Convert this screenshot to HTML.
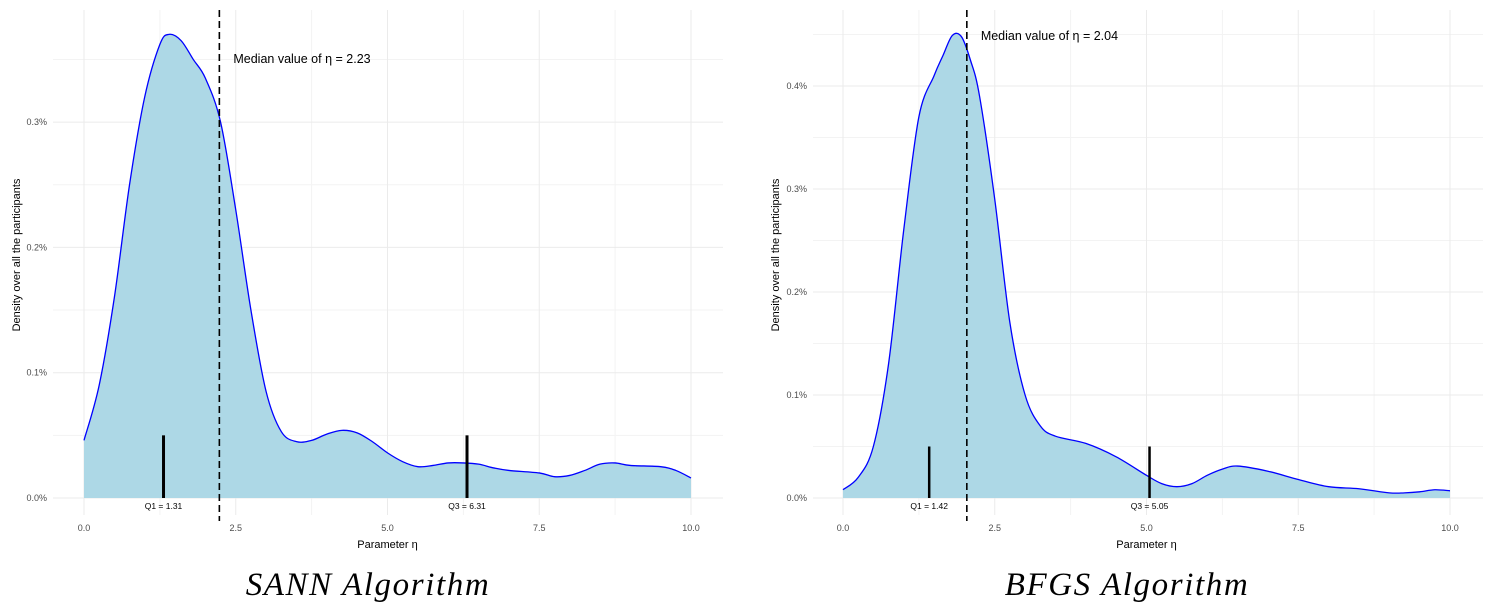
<!DOCTYPE html>
<html><head><meta charset="utf-8"><style>
body{margin:0;background:#fff;width:1485px;height:603px;overflow:hidden}
svg text{font-family:"Liberation Sans",sans-serif}
</style></head><body>
<svg id="s" width="1485" height="603"></svg>
<script>
const xTicks=[0,2.5,5,7.5,10];
const xTickLabels=["0.0","2.5","5.0","7.5","10.0"];
const leftYTicks=[0,0.1,0.2,0.3];
const leftYLabels=["0.0%","0.1%","0.2%","0.3%"];
const rightYTicks=[0,0.1,0.2,0.3,0.4];
const rightYLabels=["0.0%","0.1%","0.2%","0.3%","0.4%"];
const leftX=[0,0.25,0.5,0.75,1,1.25,1.4,1.6,1.8,2,2.25,2.5,2.75,3,3.25,3.5,3.75,4,4.25,4.5,4.75,5,5.25,5.5,5.75,6,6.25,6.5,6.75,7,7.5,7.75,8,8.25,8.5,8.75,9,9.5,9.75,10];
const leftDensity=[0.046,0.09,0.16,0.25,0.32,0.362,0.37,0.365,0.35,0.335,0.30,0.23,0.15,0.085,0.053,0.045,0.046,0.051,0.054,0.052,0.045,0.036,0.029,0.025,0.026,0.028,0.028,0.027,0.024,0.022,0.02,0.017,0.018,0.022,0.027,0.028,0.026,0.025,0.022,0.016];
const rightX=[0,0.25,0.5,0.75,1,1.25,1.5,1.65,1.8,1.95,2.1,2.25,2.5,2.75,3,3.25,3.5,4,4.5,5,5.25,5.5,5.75,6,6.25,6.5,7,7.5,8,8.5,9,9.25,9.5,9.75,10];
const rightDensity=[0.008,0.02,0.05,0.13,0.26,0.37,0.41,0.43,0.449,0.448,0.425,0.39,0.29,0.17,0.1,0.07,0.06,0.053,0.04,0.022,0.014,0.011,0.014,0.022,0.028,0.031,0.026,0.018,0.011,0.009,0.005,0.005,0.006,0.008,0.007];
const leftStats={median:2.23,q1:1.31,q3:6.31};
const rightStats={median:2.04,q1:1.42,q3:5.05};
const NS="http://www.w3.org/2000/svg";
const svg=document.getElementById('s');
function el(t,a,p){const e=document.createElementNS(NS,t);for(const k in a)e.setAttribute(k,a[k]);(p||svg).appendChild(e);return e;}
function spline(pts){let d="M"+pts[0][0]+","+pts[0][1];for(let i=0;i<pts.length-1;i++){const p0=pts[Math.max(0,i-1)],p1=pts[i],p2=pts[i+1],p3=pts[Math.min(pts.length-1,i+2)];const c1=[p1[0]+(p2[0]-p0[0])/6,p1[1]+(p2[1]-p0[1])/6],c2=[p2[0]-(p3[0]-p1[0])/6,p2[1]-(p3[1]-p1[1])/6];d+=`C${c1[0]},${c1[1]} ${c2[0]},${c2[1]} ${p2[0]},${p2[1]}`;}return d;}
function panel(o){
 const g=el('g',{});  
 const sx=v=>o.x0+(o.x1-o.x0)*v/10, sy=v=>o.y0-o.ppu*v;
 for(let i=0;i<xTicks.length-1;i++){const m=(xTicks[i]+xTicks[i+1])/2;el('line',{x1:sx(m),x2:sx(m),y1:10,y2:515,stroke:'#f3f3f3','stroke-width':1},g);}
 for(let i=0;i<o.yt.length;i++){const m=o.yt[i]+0.05;if(sy(m)>10)el('line',{x1:o.gl,x2:o.gr,y1:sy(m),y2:sy(m),stroke:'#f3f3f3','stroke-width':1},g);}
 xTicks.forEach((t,i)=>{const l=el('line',{x1:sx(t),x2:sx(t),y1:10,y2:515,stroke:'#ebebeb','stroke-width':1},g);
  const tx=el('text',{x:sx(t),y:531,'font-size':9,fill:'#4d4d4d','text-anchor':'middle'},g);tx.textContent=xTickLabels[i];});
 o.yt.forEach((t,i)=>{const l=el('line',{x1:o.gl,x2:o.gr,y1:sy(t),y2:sy(t),stroke:'#ebebeb','stroke-width':1},g);
  const tx=el('text',{x:o.gl-6,y:sy(t)+3,'font-size':9,fill:'#4d4d4d','text-anchor':'end'},g);tx.textContent=o.yl[i];});
 const pts=o.xs.map((x,i)=>[sx(x),sy(o.ys[i])]);
 const c=spline(pts);
 const a=el('path',{d:c+`L${sx(10)},${sy(0)}L${sx(0)},${sy(0)}Z`,fill:'#add8e6'},g);
 const ln=el('path',{d:c,fill:'none',stroke:'#0000ff','stroke-width':1.3},g);
 [['q1','Q1'],['q3','Q3']].forEach(([k,lab])=>{const v=o.st[k];const b=el('line',{x1:sx(v),x2:sx(v),y1:sy(0),y2:sy(0.05),stroke:'#000','stroke-width':o.qw},g);
  const t=el('text',{x:sx(v),y:509,'font-size':8.5,fill:'#000','text-anchor':'middle'},g);t.textContent=lab+' = '+v.toFixed(2);});
 const md=el('line',{x1:sx(o.st.median),x2:sx(o.st.median),y1:10,y2:521,stroke:'#000','stroke-width':1.6,'stroke-dasharray':'7,4'},g);
 const mt=el('text',{x:sx(o.st.median)+14,y:o.mty,'font-size':12.5,fill:'#000'},g);mt.textContent='Median value of η = '+o.st.median.toFixed(2);
 const xt=el('text',{x:sx(5),y:548,'font-size':11,fill:'#000','text-anchor':'middle'},g);xt.textContent='Parameter η';
 const yt=el('text',{x:0,y:0,'font-size':11,fill:'#000','text-anchor':'middle',transform:`translate(${o.ytx},255) rotate(-90)`},g);yt.textContent='Density over all the participants';
 const ti=el('text',{x:o.tx,y:595,'font-size':33,'font-style':'italic',fill:'#000','text-anchor':'middle','letter-spacing':'1.6'},g);ti.setAttribute('style','font-family:"Liberation Serif",serif');ti.textContent=o.title;
}
panel({name:'sann-panel',x0:84,x1:691,y0:498,ppu:1253,gl:53,gr:723,yt:leftYTicks,yl:leftYLabels,xs:leftX,ys:leftDensity,st:leftStats,qw:3,mty:63,ytx:20,tx:368,title:'SANN Algorithm'});
panel({name:'bfgs-panel',x0:843,x1:1450,y0:498,ppu:1030,gl:813,gr:1483,yt:rightYTicks,yl:rightYLabels,xs:rightX,ys:rightDensity,st:rightStats,qw:2.5,mty:40,ytx:779,tx:1127,title:'BFGS Algorithm'});
</script>
</body></html>
